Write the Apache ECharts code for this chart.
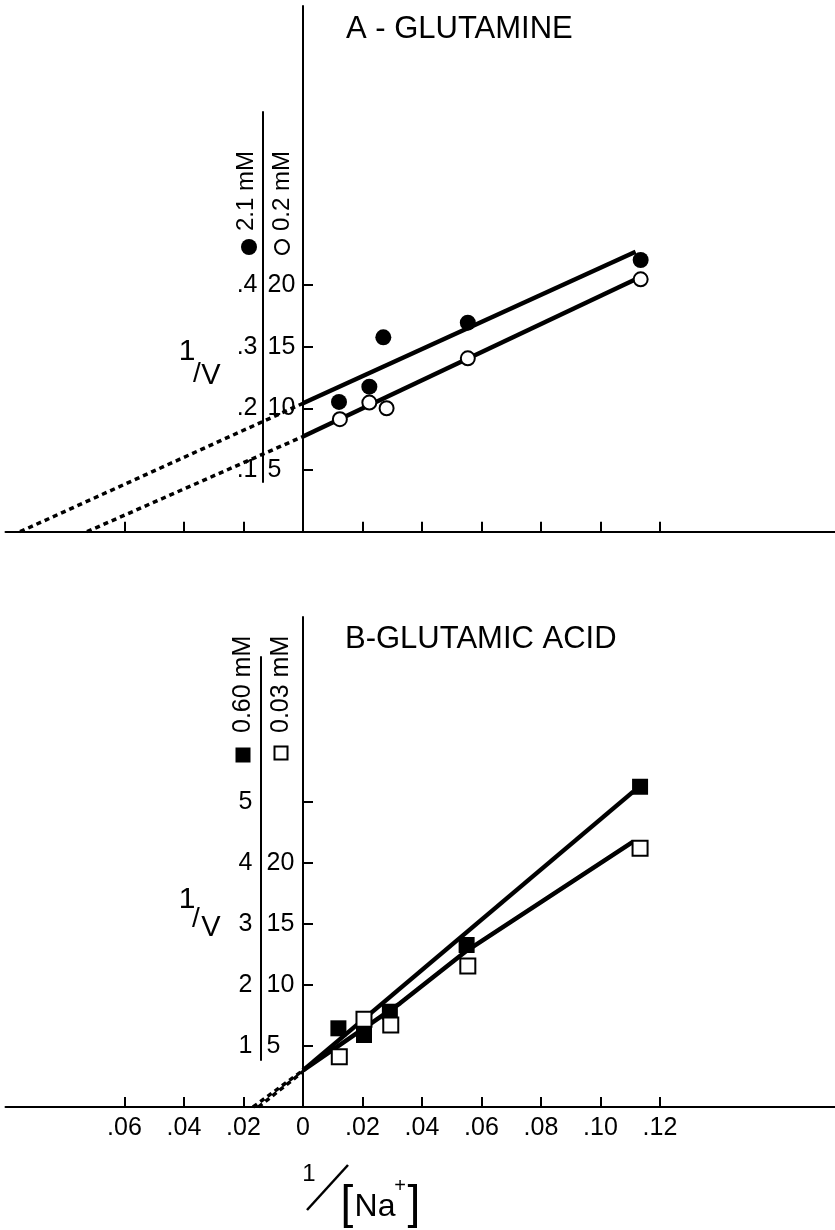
<!DOCTYPE html>
<html><head><meta charset="utf-8">
<script src="https://cdn.jsdelivr.net/npm/echarts@6/dist/echarts.min.js"></script>
<style>html,body{margin:0;padding:0;background:#fff}#c{width:835px;height:1230px}</style>
</head><body><div id="c"></div>
<script>
// ---------- Panel A : glutamine (1/V vs 1/[Na+]) ----------
const glnHighX = [0.0121, 0.0223, 0.0270, 0.0554, 0.1135];   // 2.1 mM (filled circles)
const glnHighY = [10.52, 11.76, 15.76, 16.95, 22.03];
const glnLowX  = [0.0124, 0.0223, 0.0281, 0.0554, 0.1135];   // 0.2 mM (open circles)
const glnLowY  = [9.12, 10.47, 10.01, 14.06, 20.46];
const glnHighFitX = [0, 0.1118];     const glnHighFitY = [10.41, 22.70];
const glnLowFitX  = [0, 0.1113];     const glnLowFitY  = [7.72, 20.41];
const glnHighExtX = [-0.0951, 0];    const glnHighExtY = [0, 10.41];
const glnLowExtX  = [-0.0726, 0];    const glnLowExtY  = [0, 7.72];

// ---------- Panel B : glutamic acid ----------
const gluHighX = [0.0119, 0.0205, 0.0292, 0.0550, 0.1133];   // 0.60 mM (filled squares)
const gluHighY = [6.45, 5.90, 7.81, 13.28, 26.25];
const gluLowX  = [0.0122, 0.0205, 0.0295, 0.0554, 0.1133];   // 0.03 mM (open squares)
const gluLowY  = [4.12, 7.19, 6.72, 11.56, 21.20];
const gluHighFitX = [0, 0.111];                const gluHighFitY = [3.0, 25.85];
const gluLowFitX  = [0, 0.0326, 0.055, 0.111]; const gluLowFitY  = [3.0, 8.5, 12.8, 21.75];
const gluHighExtX = [-0.0168, 0];  const gluHighExtY = [0, 3.0];
const gluLowExtX  = [-0.0150, 0];  const gluLowExtY  = [0, 2.9];

// ---------- ticks & tick labels ----------
const xTickValues  = [-0.06, -0.04, -0.02, 0.02, 0.04, 0.06, 0.08, 0.10, 0.12];
const xLabelValues = [-0.06, -0.04, -0.02, 0, 0.02, 0.04, 0.06, 0.08, 0.10, 0.12];
const xLabelTexts  = ['.06', '.04', '.02', '0', '.02', '.04', '.06', '.08', '.10', '.12'];
const yTickA        = [5, 10, 15, 20];
const yLabelAInner  = ['.1', '.2', '.3', '.4'];
const yLabelAOuter  = ['5', '10', '15', '20'];
const yTickB        = [5, 10, 15, 20, 25];
const yLabelBInner  = ['1', '2', '3', '4', '5'];
const yLabelBOuterV = [5, 10, 15, 20];
const yLabelBOuter  = ['5', '10', '15', '20'];

const zip = (xs, ys) => xs.map((x, i) => [x, ys[i]]);
const lookup = (vals, texts) => v => { for (let i = 0; i < vals.length; i++) if (Math.abs(v - vals[i]) < 1e-9) return texts[i]; return ''; };

const FONT = 'Liberation Sans';
const PX_PER_UNIT = 2975;            // pixels per 1.0 of 1/[Na+]
const GRID_LEFT = 5.5, X_MIN = -0.1;
const X_MAX = X_MIN + (835 - GRID_LEFT) / PX_PER_UNIT;

const chart = echarts.init(document.getElementById('c'), null, {renderer: 'canvas'});

function mainX(gi, showLabels) {
  return {
    type: 'value', gridIndex: gi, min: X_MIN, max: X_MAX,
    axisLine: {show: true, onZero: false, lineStyle: {color: '#000', width: 2}},
    axisTick: {show: true, inside: true, length: 10, customValues: xTickValues, lineStyle: {color: '#000', width: 2}},
    axisLabel: {show: showLabels, customValues: xLabelValues, formatter: lookup(xLabelValues, xLabelTexts),
      color: '#000', fontFamily: FONT, fontSize: 25, margin: 9},
    splitLine: {show: false}
  };
}
function mainY(gi, max, ticks) {
  return {
    type: 'value', gridIndex: gi, min: 0, max: max,
    axisLine: {show: true, onZero: true, lineStyle: {color: '#000', width: 2}},
    axisTick: {show: true, inside: true, length: 10, customValues: ticks, lineStyle: {color: '#000', width: 2}},
    axisLabel: {show: false}, splitLine: {show: false}
  };
}
function innerY(gi, min, max, pos, vals, texts, margin, showLine) {
  return {
    type: 'value', gridIndex: gi, min: min, max: max, position: pos,
    axisLine: {show: showLine, onZero: false, lineStyle: {color: '#000', width: 2}},
    axisTick: {show: false},
    axisLabel: {show: true, customValues: vals, formatter: lookup(vals, texts),
      color: '#000', fontFamily: FONT, fontSize: 25, margin: margin},
    splitLine: {show: false}
  };
}
function hiddenX(gi) { return {type: 'value', gridIndex: gi, min: 0, max: 1, show: false}; }

function lineSeries(xi, data, dashed) {
  return {type: 'line', xAxisIndex: xi, yAxisIndex: xi, data: data, showSymbol: false, symbol: 'none',
    silent: true, lineStyle: {color: '#000', opacity: 1, width: dashed ? 3.5 : 4.5, type: dashed ? [5, 4] : 'solid', cap: 'butt'}, z: 3};
}
function markerSeries(xi, data, symbol, size, filled) {
  return {type: 'scatter', xAxisIndex: xi, yAxisIndex: xi, data: data, symbol: symbol, symbolSize: size, silent: true,
    itemStyle: filled ? {color: '#000', opacity: 1} : {color: '#fff', borderColor: '#000', borderWidth: 2, opacity: 1}, z: 5};
}

// y scales: panel A 61.67 px per 5 units, panel B 61 px per 5 units
const A_TOP = 6, A_BOT = 531.7, A_PX5 = 61.67;
const B_TOP = 617, B_BOT = 1107, B_PX5 = 61;
const yA = p => (A_BOT - p) / A_PX5 * 5;
const yB = p => (B_BOT - p) / B_PX5 * 5;

const txt = (text, x, y, size, extra) => Object.assign({type: 'text', x: x, y: y, silent: true,
  style: {text: text, fill: '#000', font: size + 'px "' + FONT + '"', textAlign: 'center', textVerticalAlign: 'middle'}}, extra || {});
const rtxt = (text, x, y, size) => ({type: 'text', x: x, y: y, rotation: Math.PI / 2, silent: true,
  style: {text: text, fill: '#000', font: size + 'px "' + FONT + '"', textAlign: 'left', textVerticalAlign: 'middle'}});

chart.setOption({
  animation: false,
  backgroundColor: '#fff',
  grid: [
    {left: GRID_LEFT, right: 0, top: A_TOP, height: A_BOT - A_TOP, outerBoundsMode: 'none'},
    {left: GRID_LEFT, right: 0, top: B_TOP, height: B_BOT - B_TOP, outerBoundsMode: 'none'},
    {left: 262.5, width: 1, top: 112, height: 482 - 112, outerBoundsMode: 'none'},
    {left: 260.5, width: 1, top: 657, height: 1060 - 657, outerBoundsMode: 'none'}
  ],
  xAxis: [mainX(0, false), mainX(1, true), hiddenX(2), hiddenX(2), hiddenX(3), hiddenX(3)],
  yAxis: [
    mainY(0, yA(A_TOP), yTickA),
    mainY(1, yB(B_TOP), yTickB),
    innerY(2, yA(482), yA(112), 'left', yTickA, yLabelAInner, 5, true),
    innerY(2, yA(482), yA(112), 'right', yTickA, yLabelAOuter, 4, false),
    innerY(3, yB(1060), yB(657), 'left', yTickB, yLabelBInner, 8, true),
    innerY(3, yB(1060), yB(657), 'right', yLabelBOuterV, yLabelBOuter, 5, false)
  ],
  title: [
    {text: 'A - GLUTAMINE', left: 341, top: 9, textStyle: {fontFamily: FONT, fontSize: 31, fontWeight: 'normal', color: '#000'}},
    {text: 'B-GLUTAMIC ACID', left: 340, top: 619, textStyle: {fontFamily: FONT, fontSize: 31, fontWeight: 'normal', color: '#000'}}
  ],
  series: [
    lineSeries(0, zip(glnHighExtX, glnHighExtY), true),
    lineSeries(0, zip(glnLowExtX, glnLowExtY), true),
    lineSeries(0, zip(glnHighFitX, glnHighFitY), false),
    lineSeries(0, zip(glnLowFitX, glnLowFitY), false),
    markerSeries(0, zip(glnHighX, glnHighY), 'circle', 16, true),
    markerSeries(0, zip(glnLowX, glnLowY), 'circle', 14, false),
    lineSeries(1, zip(gluHighExtX, gluHighExtY), true),
    lineSeries(1, zip(gluLowExtX, gluLowExtY), true),
    lineSeries(1, zip(gluHighFitX, gluHighFitY), false),
    lineSeries(1, zip(gluLowFitX, gluLowFitY), false),
    markerSeries(1, zip(gluHighX, gluHighY), 'rect', 16, true),
    markerSeries(1, zip(gluLowX, gluLowY), 'rect', 15, false)
  ],
  graphic: [
    // legend panel A
    {type: 'circle', shape: {cx: 249, cy: 247, r: 8}, style: {fill: '#000'}, silent: true},
    rtxt('2.1 mM', 246, 231, 24),
    {type: 'circle', shape: {cx: 282, cy: 247, r: 7}, style: {fill: '#fff', stroke: '#000', lineWidth: 2}, silent: true},
    rtxt('0.2 mM', 282, 231, 24),
    // legend panel B
    {type: 'rect', shape: {x: 235.5, y: 747.5, width: 15, height: 15}, style: {fill: '#000'}, silent: true},
    rtxt('0.60 mM', 243, 733, 25),
    {type: 'rect', shape: {x: 274.5, y: 746.5, width: 13, height: 13}, style: {fill: '#fff', stroke: '#000', lineWidth: 2}, silent: true},
    rtxt('0.03 mM', 281, 733, 25),
    // 1/V panel A
    txt('1', 187, 352, 30), txt('/', 197, 374, 28), txt('V', 211, 376, 29),
    // 1/V panel B
    txt('1', 187, 900, 30), txt('/', 196, 919, 28), txt('V', 211, 928, 29),
    // x axis title 1/[Na+]
    txt('1', 309, 1174, 24),
    {type: 'line', shape: {x1: 307, y1: 1210, x2: 348, y2: 1165}, style: {stroke: '#000', lineWidth: 2.5}, silent: true},
    txt('[', 347, 1205, 46), txt('Na', 375, 1207, 32), txt('+', 400, 1186, 20), txt(']', 414, 1205, 46)
  ]
});
</script></body></html>
